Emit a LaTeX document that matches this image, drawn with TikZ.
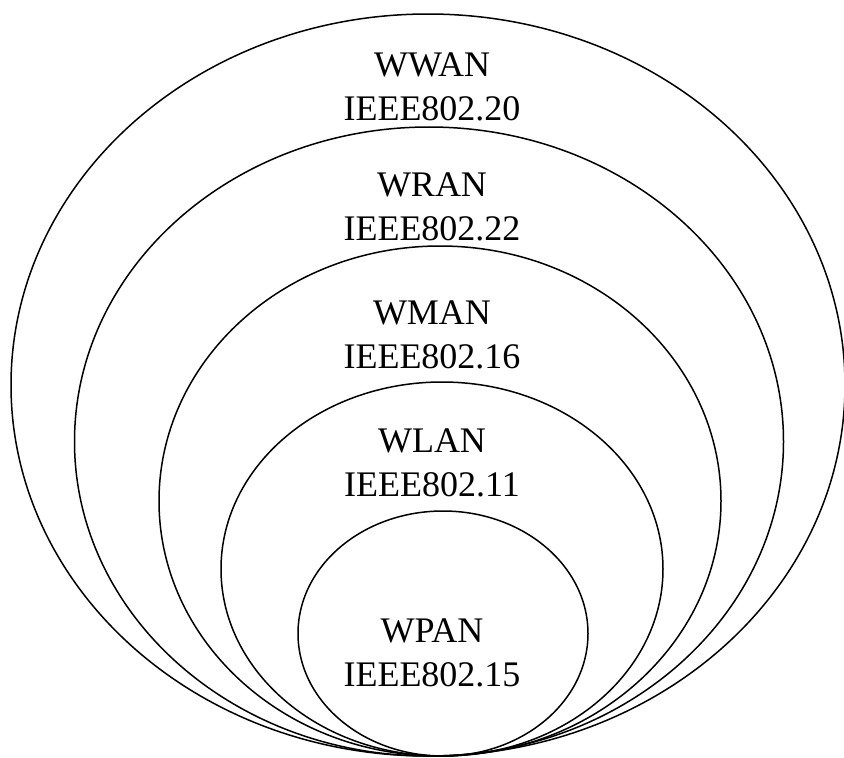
\documentclass[tikz,border=0pt]{standalone}
\usepackage{fontspec}
\setmainfont{Liberation Serif}
\usetikzlibrary{shapes, positioning}

\begin{document}
\begin{tikzpicture}[x=1pt,y=-1pt,
		net/.style={ellipse,draw,line width=1.5pt,inner sep=0pt},
		lbl/.style={align=center,inner sep=0pt,font=\fontsize{36pt}{44pt}\selectfont}]
			\useasboundingbox (0,0) rectangle (844,758);
			\node[net, minimum width=834pt, minimum height=742pt] (wwan) at (428,385) {};
			\node[net, minimum width=709pt, minimum height=629pt] (wran) at (429,441.5) {};
			\node[net, minimum width=562pt, minimum height=510pt] (wman) at (440,501) {};
			\node[net, minimum width=442pt, minimum height=374pt] (wlan) at (442,569) {};
			\node[net, minimum width=290pt, minimum height=245pt] (wpan) at (443,633.5) {};
			\node[lbl] (twwan) at (432,87) {WWAN\\IEEE802.20};
			\node[lbl] (twran) at (432,207) {WRAN\\IEEE802.22};
			\node[lbl] (twman) at (432,335) {WMAN\\IEEE802.16};
			\node[lbl] (twlan) at (432,463) {WLAN\\IEEE802.11};
			\node[lbl] (twpan) at (432,653) {WPAN\\IEEE802.15};
		\end{tikzpicture}
\end{document}
